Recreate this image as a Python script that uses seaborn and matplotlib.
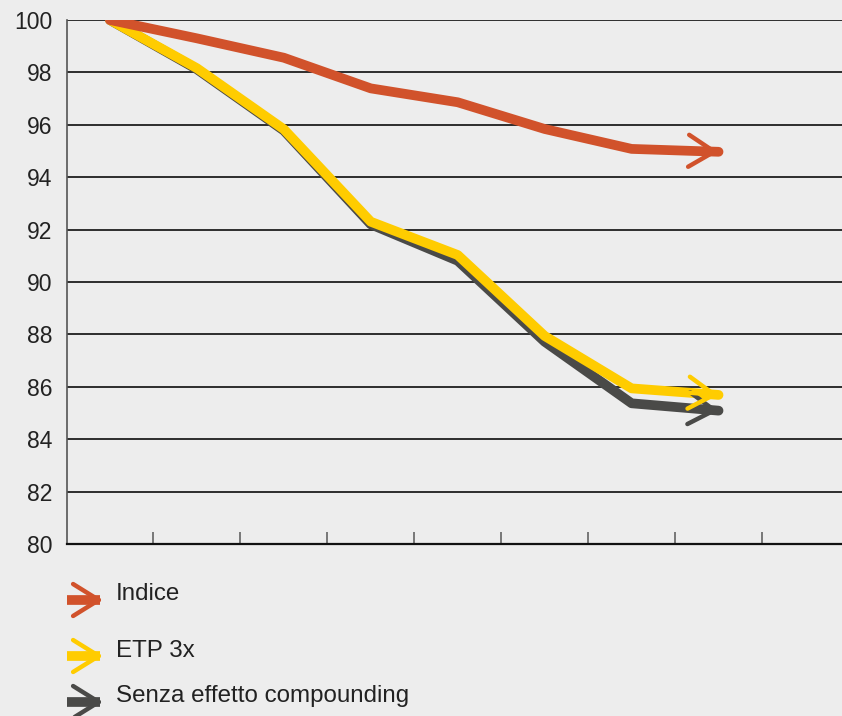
import matplotlib
matplotlib.use("Agg")
import matplotlib.pyplot as plt
import pandas as pd
import seaborn as sns
from matplotlib.lines import Line2D
from matplotlib.patches import FancyArrowPatch

# Valori a fine periodo (base 100)
periodi = [0.5, 1.5, 2.5, 3.5, 4.5, 5.5, 6.5, 7.5]
indice = [100.0, 99.30, 98.56, 97.39, 96.86, 95.84, 95.08, 94.97]
etp_3x = [100.0, 98.16, 95.83, 92.30, 91.03, 87.94, 85.94, 85.69]
senza_compounding = [100.0, 98.12, 95.78, 92.20, 90.81, 87.72, 85.37, 85.09]

serie = ["Indice", "ETP 3x", "Senza effetto compounding"]
colori = {
    "Indice": "#D1522B",
    "ETP 3x": "#FFCC00",
    "Senza effetto compounding": "#4A4A48",
}
y_ticks = [80, 82, 84, 86, 88, 90, 92, 94, 96, 98, 100]
x_ticks = [1, 2, 3, 4, 5, 6, 7, 8]

df = pd.DataFrame({
    "periodo": periodi * 3,
    "valore": indice + etp_3x + senza_compounding,
    "serie": [s for s in serie for _ in periodi],
})

sns.set_theme(style="white")
plt.rcParams["font.family"] = ["Liberation Sans", "DejaVu Sans"]

SFONDO = "#EDEDED"
W, H = 842, 716
fig = plt.figure(figsize=(W / 100, H / 100), dpi=100, facecolor=SFONDO)
ax = fig.add_axes([66.5 / W, 1 - 544 / H, 1 - 66.5 / W, (544 - 20) / H])
ax.set_facecolor(SFONDO)

# disegno: prima la serie senza compounding, poi ETP, infine l'indice
ordine = ["Senza effetto compounding", "ETP 3x", "Indice"]
sns.lineplot(data=df, x="periodo", y="valore", hue="serie", hue_order=ordine,
             palette=colori, linewidth=7.0, legend=False, sort=False, ax=ax)
for ln in ax.lines:
    ln.set_solid_capstyle("round")
    ln.set_solid_joinstyle("round")

# punte di freccia aperte alla fine di ciascuna linea
valori = {"Indice": indice, "ETP 3x": etp_3x, "Senza effetto compounding": senza_compounding}
for nome in ordine:
    v = valori[nome]
    ax.annotate("", xy=(periodi[-1], v[-1]), xytext=(periodi[-2], v[-2]),
                arrowprops=dict(arrowstyle="->,head_length=1.85,head_width=1.15",
                                color=colori[nome], lw=3.2, mutation_scale=10,
                                shrinkA=0, shrinkB=0, capstyle="round"),
                zorder=ax.lines[ordine.index(nome)].get_zorder() + 0.1)

ax.set_xlim(0, 8.92)
ax.set_ylim(80, 100)
ax.set_yticks(y_ticks)
ax.set_xticks(x_ticks)
ax.set_xlabel("")
ax.set_ylabel("")
ax.yaxis.grid(True, color="#1E1E1E", linewidth=1.3)
ax.xaxis.grid(False)
ax.set_axisbelow(True)

ax.tick_params(axis="y", left=False, length=0, pad=10, labelsize=16.5,
               labelcolor="#222222")
ax.tick_params(axis="x", bottom=True, direction="in", length=9, width=1.4,
               color="#777777", labelbottom=False)

ax.spines["top"].set_visible(False)
ax.spines["right"].set_visible(False)
ax.spines["left"].set_color("#555555")
ax.spines["left"].set_linewidth(1.2)
ax.spines["bottom"].set_color("#111111")
ax.spines["bottom"].set_linewidth(1.6)


def fx(px):
    return px / W


def fy(py):
    return 1 - py / H


# legenda con frecce sotto il grafico
legenda_y = {"Indice": 600, "ETP 3x": 656, "Senza effetto compounding": 702}
testo_y = {"Indice": 594, "ETP 3x": 651, "Senza effetto compounding": 696}
for nome in serie:
    yy = legenda_y[nome]
    fig.add_artist(Line2D([fx(67), fx(100)], [fy(yy), fy(yy)], transform=fig.transFigure,
                          color=colori[nome], linewidth=7.0, solid_capstyle="butt"))
    fig.add_artist(FancyArrowPatch((fx(80), fy(yy)), (fx(103), fy(yy)),
                                   transform=fig.transFigure,
                                   arrowstyle="->,head_length=1.85,head_width=1.15",
                                   mutation_scale=10, color=colori[nome], lw=3.2,
                                   shrinkA=0, shrinkB=0, capstyle="round"))
    fig.text(fx(116), fy(testo_y[nome]), nome, fontsize=17.4, color="#222222",
             va="center", ha="left")

fig.savefig("out.png", dpi=100, facecolor=SFONDO)
